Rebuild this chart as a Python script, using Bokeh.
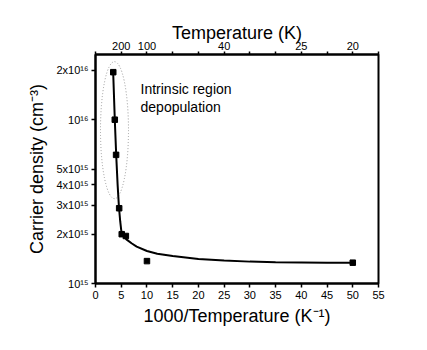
from bokeh.plotting import figure
from bokeh.models import LinearAxis, FixedTicker, Label, Range1d
from bokeh.embed import file_html
from bokeh.resources import INLINE

# measured points (1000/T in K^-1, carrier density in cm^-3)
inv_t_pts = [3.45, 3.75, 4.0, 4.6, 5.1, 5.9, 10.0, 50.0]
dens_pts = [1.95e16, 1.0e16, 6.1e15, 2.88e15, 2.0e15, 1.95e15, 1.37e15, 1.34e15]

# fitted curve
fit_x = [3.44, 3.75, 4.02, 4.3, 4.55, 4.8, 5.0, 5.12, 5.5, 6.0, 7.0, 8.0, 10.0, 12.0,
         15.0, 20.0, 25.0, 30.0, 35.0, 40.0, 45.0, 50.0]
fit_y = [1.93e16, 1.0e16, 6.1e15, 4.0e15, 2.95e15, 2.4e15, 2.12e15, 2.0e15, 1.93e15,
         1.86e15, 1.76e15, 1.68e15, 1.58e15, 1.52e15, 1.47e15, 1.41e15, 1.38e15,
         1.36e15, 1.35e15, 1.345e15, 1.34e15, 1.34e15]

y_ticks = [1e15, 2e15, 3e15, 4e15, 5e15, 1e16, 2e16]
y_tick_labels = ["10¹⁵", "2x10¹⁵", "3x10¹⁵", "4x10¹⁵", "5x10¹⁵", "10¹⁶", "2x10¹⁶"]
x_ticks = [0, 5, 10, 15, 20, 25, 30, 35, 40, 45, 50, 55]
top_ticks = [0, 5, 10, 15, 20, 25, 30, 35, 40, 45, 50, 55]
top_labelled = {5: "200", 10: "100", 25: "40", 40: "25", 50: "20"}

FONT = "Liberation Sans"

p = figure(frame_width=283, frame_height=229,
           x_range=Range1d(0, 55), y_range=Range1d(1e15, 2.5e16),
           y_axis_type="log", output_backend="svg", toolbar_location=None,
           min_border_left=95, min_border_top=54, min_border_right=40,
           min_border_bottom=55, background_fill_color="white",
           border_fill_color="white")
p.grid.visible = False
p.outline_line_color = "black"
p.outline_line_width = 2
p.outline_line_alpha = 1.0

# bottom axis
xa = p.xaxis[0]
xa.ticker = FixedTicker(ticks=x_ticks, minor_ticks=[])
xa.axis_label = "1000/Temperature (K⁻¹)"
# left axis
ya = p.yaxis[0]
ya.ticker = FixedTicker(ticks=y_ticks, minor_ticks=[])
ya.major_label_overrides = {t: l for t, l in zip(y_ticks, y_tick_labels)}
ya.axis_label = "Carrier density (cm⁻³)"

# top axis
top = LinearAxis(ticker=FixedTicker(ticks=top_ticks, minor_ticks=[]),
                 major_label_overrides={t: top_labelled.get(t, "") for t in top_ticks},
                 axis_label="Temperature (K)")
p.add_layout(top, "above")

for ax in [xa, ya, top]:
    ax.axis_line_width = 2
    ax.axis_line_color = "black"
    ax.major_tick_line_width = 1.5
    ax.major_tick_line_color = "black"
    ax.major_tick_in = 0
    ax.major_tick_out = 4
    ax.minor_tick_line_color = None
    ax.major_label_text_font = FONT
    ax.major_label_text_font_size = "11px"
    ax.major_label_text_color = "black"
    ax.major_label_standoff = 3
    ax.axis_label_text_font = FONT
    ax.axis_label_text_font_size = "18px"
    ax.axis_label_text_font_style = "normal"
    ax.axis_label_text_color = "black"
    ax.axis_label_standoff = 6
ya.axis_label_standoff = 6
top.major_tick_out = 3
top.major_label_standoff = 2
top.axis_label_standoff = -4
xa.axis_label_standoff = 4

# dotted ellipse around the intrinsic region
p.ellipse(x=[3.69], y=[8.63e15], width=28, height=137,
          width_units="screen", height_units="screen",
          fill_color=None, line_color="#999999", line_dash="1 2", line_width=1)

p.line(fit_x, fit_y, line_color="black", line_width=2)
p.scatter(inv_t_pts, dens_pts, marker="square", size=5.5, color="black")

p.add_layout(Label(x=8.75, y=1.55e16, text="Intrinsic region", text_font=FONT,
                   text_font_size="14px", text_color="black",
                   text_baseline="alphabetic"))
p.add_layout(Label(x=8.75, y=1.2e16, text="depopulation", text_font=FONT,
                   text_font_size="14px", text_color="black",
                   text_baseline="alphabetic"))

open("out.html", "w").write(file_html(p, INLINE))
